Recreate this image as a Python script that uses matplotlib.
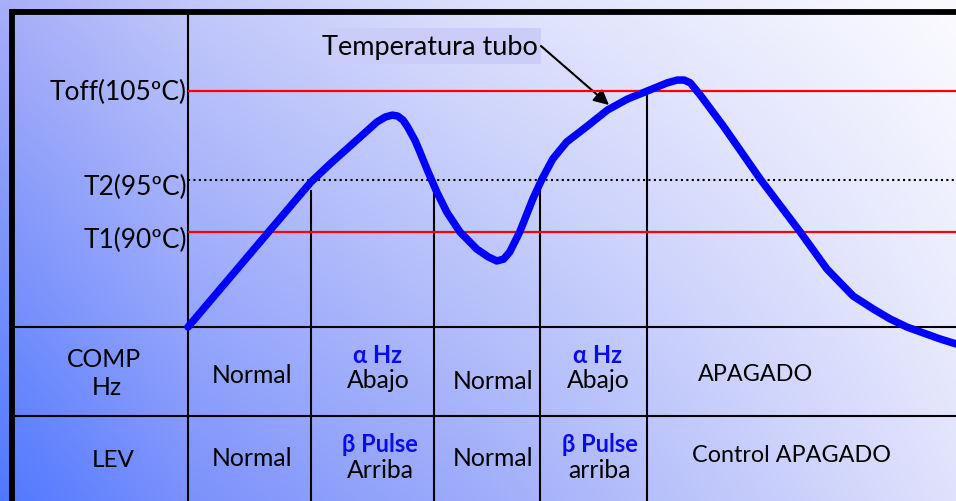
import numpy as np
import matplotlib
matplotlib.use("Agg")
import matplotlib.pyplot as plt
from matplotlib.patches import Rectangle
from matplotlib.transforms import blended_transform_factory
from matplotlib.colors import to_rgb

plt.rcParams['font.family'] = ['Lato', 'DejaVu Sans']

# --- tube temperature curve (time 0..100, schematic level 0..100) ---
time = [0, 16.0, 18.5, 21.1, 24.6, 25.7, 26.6, 27.3, 28.0, 28.6, 29.6, 30.2,
        31.1, 32.4, 33.7, 35.4, 37.6, 39.1, 40.2, 41.1, 41.9, 43.2, 44.9,
        46.1, 47.5, 49.3, 52.0, 54.6, 57.2, 59.8, 62.4, 63.7, 64.6, 65.4,
        66.7, 69.7, 74.5, 79.7, 83.2, 86.6, 89.2, 91.4, 93.6, 97.9, 100]
level = [0, 46.3, 52.1, 57.8, 65.5, 67.1, 67.7, 67.4, 66.1, 63.9, 59.4, 55.9,
         50.5, 43.1, 36.7, 30.4, 24.9, 22.4, 21.1, 21.7, 24.0, 30.4, 40.9,
         47.3, 53.7, 59.1, 64.2, 69.3, 72.8, 75.4, 78.0, 78.9, 78.9, 78.0,
         74.1, 64.2, 47.3, 30.4, 18.5, 9.9, 5.8, 2.6, 0, -3.8, -5.4]

# thresholds
thr_labels = ['Toff(105ºC)', 'T2(95ºC)', 'T1(90ºC)']
thr_levels = [75.4, 47.0, 30.4]
thr_styles = ['red', 'dotted', 'red']

# phase boundaries (time) and where each divider starts (level)
phase_edges = [0, 16.0, 32.0, 45.8, 59.8, 100]
divider_tops = [None, 43.5, 43.5, 43.5, 75.4]

# table contents
row_titles = [['COMP', 'Hz'], ['LEV']]
comp_cells = [('', 'Normal'), ('α Hz', 'Abajo'), ('', 'Normal'),
              ('α Hz', 'Abajo'), ('', 'APAGADO')]
lev_cells = [('', 'Normal'), ('β Pulse', 'Arriba'), ('', 'Normal'),
             ('β Pulse', 'arriba'), ('', 'Control APAGADO')]

W, H = 956, 502
fig = plt.figure(figsize=(W / 100, H / 100), dpi=100)
ax = fig.add_axes([0, 0, 1, 1])
ax.set_xlim(0, W)
ax.set_ylim(H, 0)
ax.axis('off')

# background gradient: blue at lower-left fading to near white at upper-right
xs = np.linspace(0, 1, 300)
stops_x = [0, 0.2, 0.5, 1.0]
top_cols = np.array([to_rgb(c) for c in ['#a8aef8', '#c2c8fa', '#dde1fc', '#fbfbff']])
bot_cols = np.array([to_rgb(c) for c in ['#5078ff', '#7c92fc', '#9eacfa', '#e0e2fc']])
top = np.stack([np.interp(xs, stops_x, top_cols[:, k]) for k in range(3)], axis=1)
bot = np.stack([np.interp(xs, stops_x, bot_cols[:, k]) for k in range(3)], axis=1)
ys = np.linspace(0, 1, 200)[:, None, None]
img = (1 - ys) * top[None, :, :] + ys * bot[None, :, :]
ax.imshow(img, extent=[0, W, H, 0], aspect='auto', zorder=0, interpolation='bilinear')

# chart area
x0, x1, ytop, ybot = 188, W, 15, 328
cax = fig.add_axes([x0 / W, (H - ybot) / H, (x1 - x0) / W, (ybot - ytop) / H])
cax.set_xlim(0, 100)
cax.set_ylim(0, 100)
cax.axis('off')
cax.patch.set_alpha(0)

mix = blended_transform_factory(cax.transData, ax.transData)

for lv, st in zip(thr_levels, thr_styles):
    if st == 'red':
        cax.axhline(lv, color='#ff0000', lw=1.6, zorder=3)
    else:
        cax.axhline(lv, color='black', lw=1.5, ls=(0, (1, 1.6)), zorder=3)

# threshold labels
lab_base = [100, 195, 248]
for lab, yb in zip(thr_labels, lab_base):
    ax.text(187, yb, lab, ha='right', va='baseline', fontsize=19, color='black', zorder=5)

# table frame lines
ax.plot([15, W], [328, 328], color='black', lw=1.5, zorder=4)
ax.plot([15, W], [416.5, 416.5], color='black', lw=1.5, zorder=4)
ax.plot([188, 188], [15, H], color='black', lw=1.5, zorder=4)
for xe, top_lv in zip(phase_edges[1:-1], divider_tops[1:]):
    ytop_px = H - cax.transData.transform((0, top_lv))[1]
    ax.plot([xe, xe], [ytop_px, H], color='black', lw=1.5, zorder=4,
            transform=mix)

# outer border (top and left)
ax.plot([12.5, W], [12.5, 12.5], color='black', lw=4.2, zorder=6,
        solid_capstyle='butt')
ax.plot([12.5, 12.5], [10.4, H], color='black', lw=4.2, zorder=6,
        solid_capstyle='butt')

# curve
cax.plot(time, level, color='#0000ff', lw=5.4, clip_on=False, zorder=7,
         solid_joinstyle='round', solid_capstyle='round')

# curve label with arrow
ax.add_patch(Rectangle((329, 29), 212, 36, facecolor='#ccccf8', edgecolor='none', zorder=5))
ax.text(322, 55, 'Temperatura tubo', ha='left', va='baseline', fontsize=19.5, zorder=6)
ax.annotate('', xy=(609, 106), xytext=(541, 47), xycoords='data',
            arrowprops=dict(arrowstyle='-|>,head_length=0.9,head_width=0.45',
                            color='black', lw=1.5, shrinkA=0, shrinkB=0), zorder=8)

# row titles
ax.text(104, 367, row_titles[0][0], ha='center', va='baseline', fontsize=17.8)
ax.text(107, 395, row_titles[0][1], ha='center', va='baseline', fontsize=17.8)
ax.text(113, 467, row_titles[1][0], ha='center', va='baseline', fontsize=17.5)

blue = '#0a0af0'
# per-column baselines: (bold header, plain text)
comp_pos = [(None, 383), (363, 388), (None, 389), (363, 388), (None, 381)]
lev_pos = [(None, 466), (452, 478), (None, 466), (452, 478), (None, 462)]
comp_x = [252, 378, 493, 598, 756]
lev_x = [252, 380, 493, 600, 792]


def cell(xc, yh, yt, hdr, txt):
    if hdr:
        ax.text(xc, yh, hdr, ha='center', va='baseline', fontsize=17,
                fontweight='bold', color=blue)
    size = 16.8 if 'APAGADO' in txt else 17.8
    ax.text(xc, yt, txt, ha='center', va='baseline', fontsize=size)


for (hdr, txt), (yh, yt), xc in zip(comp_cells, comp_pos, comp_x):
    cell(xc, yh, yt, hdr, txt)
for (hdr, txt), (yh, yt), xc in zip(lev_cells, lev_pos, lev_x):
    cell(xc, yh, yt, hdr, txt)

fig.savefig('out.png', dpi=100)
